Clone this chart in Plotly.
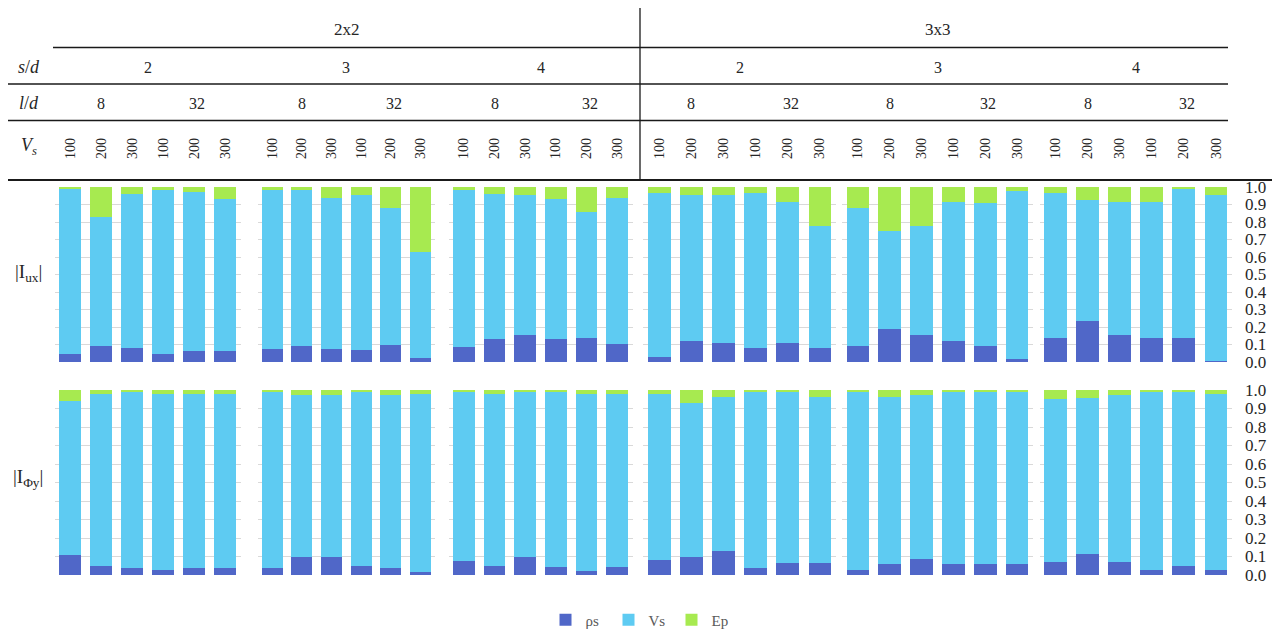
import plotly.graph_objects as go

# ---------------- data ----------------
layouts = ["2x2", "3x3"]
sd_values = ["2", "3", "4"]
ld_values = ["8", "32"]
vs_values = ["100", "200", "300"]
series_names = ["ρs", "Vs", "Ep"]
row_labels = ["|I<sub>ux</sub>|", "|I<sub>Φy</sub>|"]
y_ticks = [0.0, 0.1, 0.2, 0.3, 0.4, 0.5, 0.6, 0.7, 0.8, 0.9, 1.0]

# order: 2x2 s/d 2,3,4 then 3x3 s/d 2,3,4; within each: l/d 8 (Vs 100,200,300), l/d 32 (Vs 100,200,300)
rho_ux = [0.044, 0.094, 0.081, 0.044, 0.065, 0.065,
          0.077, 0.091, 0.077, 0.069, 0.098, 0.025,
          0.087, 0.132, 0.153, 0.132, 0.139, 0.103,
          0.029, 0.122, 0.107, 0.078, 0.107, 0.078,
          0.092, 0.187, 0.157, 0.122, 0.092, 0.019,
          0.136, 0.237, 0.157, 0.136, 0.136, 0.006]
vs_ux = [0.950, 0.733, 0.877, 0.937, 0.906, 0.864,
         0.908, 0.894, 0.863, 0.885, 0.784, 0.601,
         0.898, 0.829, 0.801, 0.800, 0.720, 0.837,
         0.935, 0.834, 0.849, 0.886, 0.809, 0.698,
         0.786, 0.563, 0.619, 0.792, 0.814, 0.960,
         0.828, 0.690, 0.759, 0.778, 0.851, 0.950]
ep_ux = [0.006, 0.173, 0.042, 0.019, 0.029, 0.071,
         0.015, 0.015, 0.060, 0.046, 0.118, 0.374,
         0.015, 0.039, 0.046, 0.068, 0.141, 0.060,
         0.036, 0.044, 0.044, 0.036, 0.084, 0.224,
         0.122, 0.250, 0.224, 0.086, 0.094, 0.021,
         0.036, 0.073, 0.084, 0.086, 0.013, 0.044]

rho_phi = [0.106, 0.046, 0.036, 0.029, 0.036, 0.036,
           0.036, 0.099, 0.099, 0.051, 0.036, 0.016,
           0.073, 0.047, 0.095, 0.041, 0.022, 0.041,
           0.080, 0.099, 0.128, 0.040, 0.067, 0.067,
           0.027, 0.061, 0.088, 0.061, 0.061, 0.061,
           0.068, 0.115, 0.068, 0.027, 0.047, 0.027]
vs_phi = [0.832, 0.934, 0.957, 0.951, 0.944, 0.944,
          0.957, 0.874, 0.874, 0.942, 0.937, 0.964,
          0.920, 0.931, 0.898, 0.952, 0.956, 0.937,
          0.897, 0.831, 0.836, 0.951, 0.924, 0.897,
          0.964, 0.903, 0.883, 0.930, 0.930, 0.930,
          0.882, 0.842, 0.903, 0.964, 0.944, 0.950]
ep_phi = [0.062, 0.020, 0.007, 0.020, 0.020, 0.020,
          0.007, 0.027, 0.027, 0.007, 0.027, 0.020,
          0.007, 0.022, 0.007, 0.007, 0.022, 0.022,
          0.023, 0.070, 0.036, 0.009, 0.009, 0.036,
          0.009, 0.036, 0.029, 0.009, 0.009, 0.009,
          0.050, 0.043, 0.029, 0.009, 0.009, 0.023]

# ---------------- styling ----------------
OX, OY = 8, 8            # page body margin offset
W, H = 1280 - OX, 632 - OY
colors = ["#5067C8", "#5ECBF2", "#A7EA50"]
SERIF = "Liberation Serif, Times New Roman, serif"
TXT = "#262626"
GRID = "#D9D9D9"

panel_px = [(55, 240.5), (257.5, 435), (448.5, 632.5),
            (643, 836), (842, 1033), (1039.5, 1232)]
row_px = [(187, 362), (390, 575)]

def fx(px):
    return (px - OX) / W

def fy(py):
    return 1 - (py - OY) / H

rows_data = [(rho_ux, vs_ux, ep_ux), (rho_phi, vs_phi, ep_phi)]

cats = [f"{ld}|{vs}" for ld in ld_values for vs in vs_values]
cat_text = [vs for ld in ld_values for vs in vs_values]

fig = go.Figure()
layout_axes = {}

for r in range(2):
    for p in range(6):
        k = r * 6 + p + 1
        xa = "x" if k == 1 else f"x{k}"
        ya = "y" if k == 1 else f"y{k}"
        for s in range(3):
            vals = rows_data[r][s][p * 6:(p + 1) * 6]
            fig.add_trace(go.Bar(
                x=cats, y=vals, name=series_names[s],
                marker=dict(color=colors[s], line=dict(width=0)),
                xaxis=xa, yaxis=ya,
                showlegend=(k == 1), legendgroup=series_names[s],
            ))
        x0, x1 = panel_px[p]
        y0, y1 = row_px[r]
        xkey = "xaxis" if k == 1 else f"xaxis{k}"
        ykey = "yaxis" if k == 1 else f"yaxis{k}"
        layout_axes[xkey] = dict(
            domain=[fx(x0), fx(x1)], anchor=ya,
            type="category", categoryorder="array", categoryarray=cats,
            tickmode="array", tickvals=cats, ticktext=cat_text,
            showticklabels=(r == 0), side="top", tickangle=-90,
            ticklabelstandoff=27, ticks="", automargin=False,
            tickfont=dict(family=SERIF, size=14, color=TXT),
            showgrid=False, zeroline=False, showline=False,
            fixedrange=True,
        )
        layout_axes[ykey] = dict(
            domain=[fy(y1), fy(y0)], anchor=xa, range=[0, 1],
            tickmode="array", tickvals=y_ticks,
            ticktext=[f"{t:.1f}" for t in y_ticks],
            showticklabels=(p == 5), side="right",
            ticklabelstandoff=12, ticks="", automargin=False,
            tickfont=dict(family=SERIF, size=17, color=TXT),
            showgrid=True, gridcolor=GRID, gridwidth=1,
            zeroline=False, showline=False, fixedrange=True,
        )

fig.update_layout(**layout_axes)

# ---------------- header table ----------------
shapes = []
def hline(x0, x1, y, width=1.3):
    shapes.append(dict(type="line", xref="paper", yref="paper",
                       x0=fx(x0), x1=fx(x1), y0=fy(y), y1=fy(y),
                       line=dict(color="#1a1a1a", width=width)))

hline(53, 1228, 47.5)
hline(8, 1228, 84)
hline(8, 1228, 120.5)
hline(8, 1280, 180, width=2)
shapes.append(dict(type="line", xref="paper", yref="paper",
                   x0=fx(640), x1=fx(640), y0=fy(8), y1=fy(180),
                   line=dict(color="#1a1a1a", width=1.3)))

annotations = []
def text(x, y, s, size=16, xanchor="center"):
    annotations.append(dict(
        x=fx(x), y=fy(y), xref="paper", yref="paper", text=s,
        showarrow=False, xanchor=xanchor, yanchor="middle",
        font=dict(family=SERIF, size=size, color=TXT),
    ))

# layout headers
text((panel_px[0][0] + panel_px[2][1]) / 2 + 3, 30, layouts[0], size=17)
text((panel_px[3][0] + panel_px[5][1]) / 2, 30, layouts[1], size=17)

# row header labels
text(29, 67, "<i>s</i>/<i>d</i>", size=18)
text(29, 103, "<i>l</i>/<i>d</i>", size=18)
text(29, 146, "<i>V<sub>s</sub></i>", size=18)

for p in range(6):
    x0, x1 = panel_px[p]
    pitch = (x1 - x0) / 6
    text((x0 + x1) / 2, 68, sd_values[p % 3], size=16)
    text(x0 + pitch * 1.5, 103, ld_values[0], size=16)
    text(x0 + pitch * 4.6, 103, ld_values[1], size=16)

# row labels
text(28, 273, row_labels[0], size=19)
text(28, 478, row_labels[1], size=19)

fig.update_layout(
    width=W, height=H,
    margin=dict(l=0, r=0, t=0, b=0, autoexpand=False),
    paper_bgcolor="white", plot_bgcolor="white",
    barmode="stack", bargap=0.29,
    shapes=shapes, annotations=annotations,
    legend=dict(orientation="h", x=fx(640), xanchor="center",
                y=fy(620), yanchor="middle",
                font=dict(family=SERIF, size=15, color="#595959"),
                itemwidth=30, entrywidth=18, entrywidthmode="pixels",
                traceorder="normal"),
)

fig.write_html("out.html")
